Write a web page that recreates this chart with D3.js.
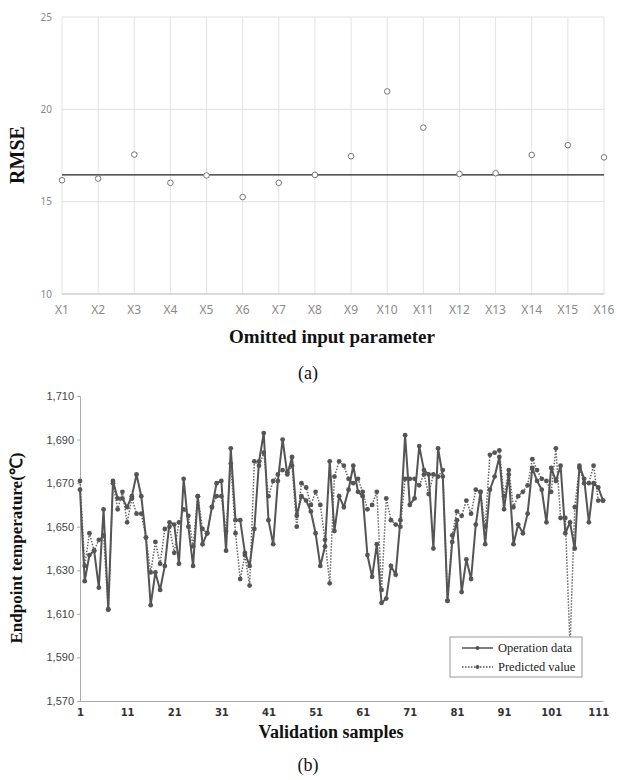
<!DOCTYPE html>
<html><head><meta charset="utf-8">
<script src="https://cdn.jsdelivr.net/npm/d3@7"></script>
<style>body{margin:0;background:#fff}svg{display:block}</style>
</head><body>
<svg id="c" width="617" height="780"></svg>
<script>
// ---- Chart (a) data ----
const paramLabels = ["X1","X2","X3","X4","X5","X6","X7","X8","X9","X10","X11","X12","X13","X14","X15","X16"];
const rmseValues = [16.16,16.25,17.55,16.02,16.42,15.25,16.02,16.45,17.46,20.97,19.01,16.5,16.54,17.53,18.06,17.4];
const rmseBaseline = 16.45;
const rmseTicks = [10,15,20,25];

// ---- Chart (b) data ----
const operationData = [1667,1625,1637,1639,1622,1658,1612,1671,1663,1663,1659,1664,1674,1664,1645,1614,1629,1621,1632,1652,
1651,1633,1672,1650,1632,1664,1642,1647,1659,1670,1671,1639,1686,1653,1653,1638,1632,1649,1680,1693,
1653,1642,1671,1690,1674,1682,1655,1664,1662,1657,1647,1632,1641,1680,1648,1664,1659,1667,1678,1666,
1664,1637,1627,1642,1615,1617,1632,1628,1653,1692,1660,1663,1687,1676,1674,1640,1686,1673,1616,1643,
1653,1620,1635,1626,1651,1666,1642,1667,1673,1682,1658,1674,1642,1651,1647,1656,1677,1671,1667,1652,
1677,1671,1678,1647,1652,1640,1678,1672,1652,1670,1668,1662];
const predictedValue = [1671,1632,1647,1639,1644,1646,1612,1670,1658,1666,1652,1663,1656,1656,1645,1629,1643,1633,1649,1650,
1638,1652,1658,1655,1641,1664,1649,1647,1659,1664,1664,1648,1679,1647,1626,1637,1623,1680,1678,1684,
1664,1671,1674,1676,1675,1678,1650,1670,1668,1660,1666,1660,1644,1624,1673,1680,1678,1672,1670,1672,
1666,1658,1660,1666,1621,1663,1653,1651,1650,1672,1672,1672,1669,1674,1665,1674,1673,1676,1616,1646,
1657,1655,1662,1656,1667,1666,1650,1683,1684,1685,1664,1676,1659,1664,1666,1669,1681,1676,1672,1671,
1666,1686,1654,1654,1595,1659,1677,1670,1670,1678,1662,1662];
const tempTicks = [1570,1590,1610,1630,1650,1670,1690,1710];
const sampleTicks = [1,11,21,31,41,51,61,71,81,91,101,111];
const seriesNames = ["Operation data","Predicted value"];

const svg = d3.select("#c");
const serif = "'Liberation Serif','Times New Roman',serif";
const sans = "'Noto Sans','DejaVu Sans',sans-serif";

// ===== Chart (a) =====
{
  const g = svg.append("g");
  const x = d3.scalePoint().domain(paramLabels).range([62, 604]);
  const y = d3.scaleLinear().domain([10,25]).range([294, 17]);
  // vertical grid
  g.selectAll("line.vg").data(paramLabels).join("line")
    .attr("x1", d=>x(d)).attr("x2", d=>x(d)).attr("y1", y(25)).attr("y2", y(10))
    .attr("stroke", "#e3e3e3").attr("stroke-width", 1);
  // horizontal grid
  g.selectAll("line.hg").data(rmseTicks).join("line")
    .attr("x1", 62).attr("x2", 604).attr("y1", d=>y(d)).attr("y2", d=>y(d))
    .attr("stroke", d=> d===10 ? "#cfcfcf" : "#e0e0e0").attr("stroke-width", d=> d===10?1.3:1);
  // y tick labels
  g.selectAll("text.yt").data(rmseTicks).join("text")
    .attr("x", 52).attr("y", d=>y(d)).attr("dy","0.35em").attr("text-anchor","end")
    .attr("font-family", sans).attr("font-size", 10).attr("fill", "#8a8a8a").text(d=>d);
  // x tick labels
  g.selectAll("text.xt").data(paramLabels).join("text")
    .attr("x", d=>x(d)).attr("y", 314).attr("text-anchor","middle")
    .attr("font-family", sans).attr("font-size", 12).attr("fill", "#8a8a8a").text(d=>d);
  // baseline
  g.append("line").attr("x1", x("X1")).attr("x2", x("X16"))
    .attr("y1", y(rmseBaseline)).attr("y2", y(rmseBaseline))
    .attr("stroke", "#222").attr("stroke-width", 1.4);
  // points
  g.selectAll("circle").data(rmseValues).join("circle")
    .attr("cx", (d,i)=>x(paramLabels[i])).attr("cy", d=>y(d)).attr("r", 2.8)
    .attr("fill", "#fff").attr("stroke", "#777").attr("stroke-width", 1);
  // titles
  g.append("text").attr("transform","translate(24,155) rotate(-90)").attr("text-anchor","middle")
    .attr("font-family", serif).attr("font-weight","bold").attr("font-size", 20).attr("fill","#111").text("RMSE");
  g.append("text").attr("x", 332).attr("y", 343).attr("text-anchor","middle")
    .attr("font-family", serif).attr("font-weight","bold").attr("font-size", 19).attr("fill","#111").text("Omitted input parameter");
  g.append("text").attr("x", 308).attr("y", 379).attr("text-anchor","middle")
    .attr("font-family", serif).attr("font-size", 18).attr("fill","#111").text("(a)");
}

// ===== Chart (b) =====
{
  const g = svg.append("g");
  const x = d3.scaleLinear().domain([1,112]).range([80, 603]);
  const y = d3.scaleLinear().domain([1570,1710]).range([701, 396]);
  // axes
  const yAxis = d3.axisLeft(y).tickValues(tempTicks).tickSize(3).tickFormat(d3.format(","));
  const ya = g.append("g").attr("transform","translate(80,0)").call(yAxis);
  ya.select(".domain").attr("stroke","#aaa");
  ya.selectAll(".tick line").attr("stroke","#aaa");
  ya.selectAll(".tick text").attr("font-family", "'Liberation Sans',Arial,sans-serif").attr("font-size", 11).attr("fill","#444").attr("x",-6);
  const xAxis = d3.axisBottom(x).tickValues(sampleTicks).tickSize(0).tickFormat(d=>d);
  const xa = g.append("g").attr("transform","translate(0,701)").call(xAxis);
  xa.select(".domain").attr("stroke","#aaa").attr("stroke-width",1.2);
  xa.selectAll(".tick text").attr("font-family", "'DejaVu Sans',sans-serif").attr("font-weight","bold").attr("font-size", 10).attr("fill","#333").attr("dy","1.2em");

  const line = d3.line().x((d,i)=>x(i+1)).y(d=>y(d));
  // predicted (dotted)
  g.append("path").datum(predictedValue).attr("d", line).attr("fill","none")
    .attr("stroke","#666").attr("stroke-width",1.5).attr("stroke-dasharray","1.5,1.5");
  g.selectAll("circle.p").data(predictedValue).join("circle").attr("class","p")
    .attr("cx",(d,i)=>x(i+1)).attr("cy",d=>y(d)).attr("r",2.4).attr("fill","#555");
  // operation (solid)
  g.append("path").datum(operationData).attr("d", line).attr("fill","none")
    .attr("stroke","#555").attr("stroke-width",2);
  g.selectAll("circle.o").data(operationData).join("circle").attr("class","o")
    .attr("cx",(d,i)=>x(i+1)).attr("cy",d=>y(d)).attr("r",2.4).attr("fill","#555");

  // legend
  const lg = g.append("g");
  lg.append("rect").attr("x",450).attr("y",637).attr("width",132).attr("height",40)
    .attr("fill","#fff").attr("stroke","#999").attr("stroke-width",1);
  const rows = [{n:seriesNames[0], dash:null, y:648},{n:seriesNames[1], dash:"1.5,1.5", y:667}];
  rows.forEach(r=>{
    lg.append("line").attr("x1",462).attr("x2",493).attr("y1",r.y).attr("y2",r.y)
      .attr("stroke","#555").attr("stroke-width", r.dash?1.3:1.5).attr("stroke-dasharray", r.dash);
    lg.append("circle").attr("cx",477.5).attr("cy",r.y).attr("r",2).attr("fill","#555");
    lg.append("text").attr("x",498).attr("y",r.y).attr("dy","0.35em")
      .attr("font-family", serif).attr("font-size",12.5).attr("fill","#222").text(r.n);
  });

  // titles
  g.append("text").attr("transform","translate(22,548) rotate(-90)").attr("text-anchor","middle")
    .attr("font-family", serif).attr("font-weight","bold").attr("font-size", 17).attr("fill","#111").text("Endpoint temperature(℃)");
  g.append("text").attr("x", 331).attr("y", 738).attr("text-anchor","middle")
    .attr("font-family", serif).attr("font-weight","bold").attr("font-size", 18).attr("fill","#111").text("Validation samples");
  g.append("text").attr("x", 308).attr("y", 771).attr("text-anchor","middle")
    .attr("font-family", serif).attr("font-size", 18).attr("fill","#111").text("(b)");
}
</script>
</body></html>
